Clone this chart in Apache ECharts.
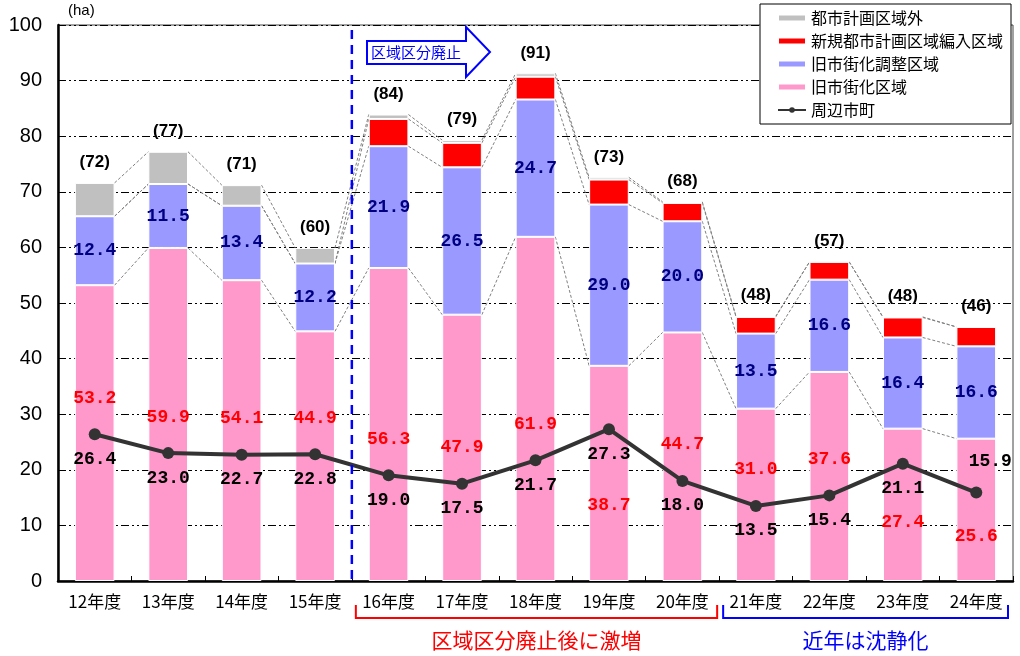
<!DOCTYPE html>
<html lang="ja">
<head>
<meta charset="UTF-8">
<title>周辺市町 面積推移</title>
<script src="https://cdn.jsdelivr.net/npm/echarts@6/dist/echarts.min.js"></script>
<style>
  html, body { margin: 0; padding: 0; background: #fff; }
  #main { width: 1020px; height: 656px; }
</style>
</head>
<body>
<div id="main"></div>
<script>
var years = ['12年度', '13年度', '14年度', '15年度', '16年度', '17年度', '18年度',
             '19年度', '20年度', '21年度', '22年度', '23年度', '24年度'];
// 旧市街化区域
var kyuShigaika = [53.2, 59.9, 54.1, 44.9, 56.3, 47.9, 61.9, 38.7, 44.7, 31.0, 37.6, 27.4, 25.6];
// 旧市街化調整区域
var kyuChosei = [12.4, 11.5, 13.4, 12.2, 21.9, 26.5, 24.7, 29.0, 20.0, 13.5, 16.6, 16.4, 16.6];
// 新規都市計画区域編入区域
var shinki = [0, 0, 0, 0, 4.9, 4.4, 4.1, 4.5, 3.3, 3.0, 3.2, 3.6, 3.5];
// 都市計画区域外
var kuikigai = [6.0, 5.8, 3.7, 2.8, 0.8, 0.5, 0.6, 0.4, 0.2, 0.1, 0, 0.1, 0];
// 周辺市町
var shuhen = [26.4, 23.0, 22.7, 22.8, 19.0, 17.5, 21.7, 27.3, 18.0, 13.5, 15.4, 21.1, 15.9];
var totals = [72, 77, 71, 60, 84, 79, 91, 73, 68, 48, 57, 48, 46];

var gridTop = 25, gridBottom = 75;
var pxPerUnit = (656 - gridTop - gridBottom) / 100;
var barRatio = 0.54;
var numFont = 'Liberation Mono';

// 積み上げの境界（系列線用）
var levels = [[], [], [], []];
for (var i = 0; i < years.length; i++) {
  levels[0][i] = kyuShigaika[i];
  levels[1][i] = levels[0][i] + kyuChosei[i];
  levels[2][i] = levels[1][i] + shinki[i];
  levels[3][i] = levels[2][i] + kuikigai[i];
}

// 旧市街化区域のラベルは折れ線と重ならないよう上下にずらす
var pinkData = kyuShigaika.map(function (v, i) {
  var at = shuhen[i] > v * 0.6 ? shuhen[i] / 2 : shuhen[i] + 6.5;
  return { value: v, label: { offset: [0, (v / 2 - at) * pxPerUnit] } };
});

var lineData = shuhen.map(function (v, i) {
  if (i === shuhen.length - 1) {
    return { value: v, label: { position: 'top', offset: [14, -6] } };
  }
  return v;
});

function renderLinks(params, api) {
  var i = params.dataIndex;
  var half = api.size([1, 0])[0] * barRatio / 2;
  var children = [];
  for (var k = 0; k < levels.length; k++) {
    var a = api.coord([i, levels[k][i]]);
    var b = api.coord([i + 1, levels[k][i + 1]]);
    children.push({
      type: 'line',
      shape: { x1: a[0] + half, y1: a[1], x2: b[0] - half, y2: b[1] },
      style: { stroke: '#808080', lineWidth: 1, lineDash: [3, 2] }
    });
  }
  return { type: 'group', children: children };
}

var chart = echarts.init(document.getElementById('main'));
var option = {
  animation: false,
  backgroundColor: '#fff',
  grid: { left: 58, right: 7, top: gridTop, bottom: gridBottom, show: true, borderColor: '#444', borderWidth: 1 },
  legend: {
    orient: 'vertical',
    left: 760, top: 4,
    padding: [6, 8, 6, 17],
    backgroundColor: '#fff',
    borderColor: '#000',
    borderWidth: 1,
    itemWidth: 28, itemHeight: 7, itemGap: 7,
    textStyle: { fontFamily: 'Noto Sans CJK JP', fontSize: 16, color: '#000' },
    data: [
      { name: '都市計画区域外', icon: 'rect' },
      { name: '新規都市計画区域編入区域', icon: 'rect' },
      { name: '旧市街化調整区域', icon: 'rect' },
      { name: '旧市街化区域', icon: 'rect' },
      '周辺市町'
    ]
  },
  xAxis: {
    type: 'category',
    data: years,
    axisLine: { lineStyle: { color: '#000', width: 2.5 } },
    axisTick: { show: true, inside: true, length: 5, lineStyle: { color: '#000' } },
    axisLabel: { fontFamily: 'Noto Sans CJK JP', fontSize: 17, color: '#000', margin: 12 }
  },
  yAxis: {
    type: 'value',
    min: 0, max: 100, interval: 10,
    axisLine: { show: true, lineStyle: { color: '#000', width: 2.5 } },
    axisTick: { show: true, inside: true, length: 5, lineStyle: { color: '#000' } },
    axisLabel: { fontFamily: 'Liberation Sans', fontSize: 20, color: '#000', margin: 16 },
    splitLine: { lineStyle: { color: '#000', width: 1, type: [8, 3, 2, 3, 2, 3] } }
  },
  series: [
    {
      name: '旧市街化区域', type: 'bar', stack: 'a', barWidth: (barRatio * 100) + '%',
      itemStyle: { color: '#FF99CC', borderColor: '#fff', borderWidth: 1 },
      label: { show: true, position: 'inside', color: '#FF0000', fontFamily: numFont, fontWeight: 'bold', fontSize: 18,
               formatter: function (p) { return p.value.toFixed(1); } },
      data: pinkData
    },
    {
      name: '旧市街化調整区域', type: 'bar', stack: 'a',
      itemStyle: { color: '#9999FF', borderColor: '#fff', borderWidth: 1 },
      label: { show: true, position: 'inside', color: '#000080', fontFamily: numFont, fontWeight: 'bold', fontSize: 18,
               formatter: function (p) { return p.value.toFixed(1); } },
      data: kyuChosei
    },
    {
      name: '新規都市計画区域編入区域', type: 'bar', stack: 'a',
      itemStyle: { color: '#FF0000', borderColor: '#fff', borderWidth: 1 },
      data: shinki
    },
    {
      name: '都市計画区域外', type: 'bar', stack: 'a',
      itemStyle: { color: '#C0C0C0', borderColor: '#fff', borderWidth: 1 },
      label: { show: true, position: 'top', distance: 12, color: '#000', fontFamily: 'Liberation Sans',
               fontWeight: 'bold', fontSize: 17,
               formatter: function (p) { return '(' + totals[p.dataIndex] + ')'; } },
      data: kuikigai
    },
    {
      name: 'links', type: 'custom', silent: true, z: 1,
      renderItem: renderLinks,
      data: years.slice(0, -1).map(function (y, i) { return [i, 0]; })
    },
    {
      name: '周辺市町', type: 'line', z: 5,
      symbol: 'circle', symbolSize: 12,
      lineStyle: { color: '#333', width: 4 },
      itemStyle: { color: '#333' },
      label: { show: true, position: 'bottom', distance: 10, color: '#000', fontFamily: numFont, fontWeight: 'bold', fontSize: 18,
               formatter: function (p) { return p.value.toFixed(1); } },
      data: lineData
    }
  ]
};
chart.setOption(option);

// 注記（区域区分廃止の境界線、矢印、括弧）
var px = function (i) { return chart.convertToPixel({ xAxisIndex: 0 }, years[i]); };
var splitX = (px(3) + px(4)) / 2;
var band = px(1) - px(0);
var redL = splitX + 4, redR = px(8) + band / 2 - 2;
var blueL = px(9) - band / 2 + 4, blueR = px(12) + band / 2 - 5;
var baseY = 656 - gridBottom;

chart.setOption({
  graphic: [
    { type: 'text', left: 68, top: 3, style: { text: '(ha)', font: '15px "Liberation Sans"', fill: '#000' } },
    { type: 'line', z: 20, shape: { x1: splitX, y1: 30, x2: splitX, y2: baseY },
      style: { stroke: '#0000FF', lineWidth: 2.5, lineDash: [9, 6] } },
    { type: 'polygon', z: 20,
      shape: { points: [[367, 41], [466, 41], [466, 27], [490, 52], [466, 77], [466, 64], [367, 64]] },
      style: { fill: '#fff', stroke: '#0000FF', lineWidth: 2 } },
    { type: 'text', z: 21, x: 416, y: 52,
      style: { text: '区域区分廃止', font: '15px "Noto Sans CJK JP"', fill: '#0000FF', align: 'center', verticalAlign: 'middle' } },
    { type: 'polyline', z: 20,
      shape: { points: [[redL, 605], [redL, 618], [redR, 618], [redR, 605]] },
      style: { fill: null, stroke: '#FF0000', lineWidth: 2 } },
    { type: 'polyline', z: 20,
      shape: { points: [[blueL, 605], [blueL, 618], [blueR, 618], [blueR, 605]] },
      style: { fill: null, stroke: '#0000FF', lineWidth: 2 } },
    { type: 'text', z: 20, x: (redL + redR) / 2, y: 640,
      style: { text: '区域区分廃止後に激増', font: '21px "Noto Sans CJK JP"', fill: '#FF0000', align: 'center', verticalAlign: 'middle' } },
    { type: 'text', z: 20, x: (blueL + blueR) / 2, y: 640,
      style: { text: '近年は沈静化', font: '21px "Noto Sans CJK JP"', fill: '#0000FF', align: 'center', verticalAlign: 'middle' } }
  ]
});
</script>
</body>
</html>
